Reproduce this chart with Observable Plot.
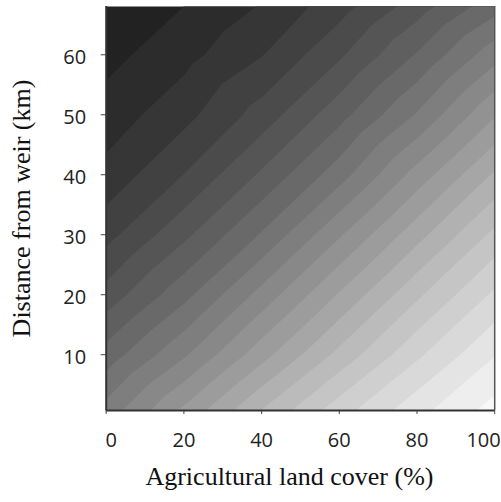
<!DOCTYPE html>
<html><head><meta charset="utf-8">
<script src="https://cdn.jsdelivr.net/npm/d3@7"></script>
<script src="https://cdn.jsdelivr.net/npm/@observablehq/plot@0.6"></script>
<style>body{margin:0;background:#fff}</style>
</head><body><div id="chart"></div>
<script>
// Grid columns: agricultural land cover (%)
const agriculture = [0, 20, 40, 60, 80, 100];
// Grid rows: distance from weir (km), top to bottom
const distance = [68.05, 60, 50, 40, 30, 20, 10, 0.7];
// Estimated band level at each grid node (rows follow `distance`, columns follow `agriculture`)
const level = [
  [-0.45, 0.50, 1.57, 3.08, 5.02, 7.10],
  [ 0.18, 1.15, 2.45, 4.33, 6.58, 9.10],
  [ 0.93, 2.17, 3.92, 6.12, 8.60, 11.40],
  [ 1.82, 3.52, 5.66, 8.06, 10.90, 13.65],
  [ 3.15, 5.25, 7.60, 10.37, 13.13, 15.77],
  [ 4.89, 7.17, 9.86, 12.60, 15.30, 17.70],
  [ 6.92, 9.35, 12.10, 14.80, 17.30, 19.45],
  [ 8.90, 11.71, 14.53, 17.06, 19.16, 20.90]
];
// Contour band edges
const thresholds = [-0.5, 0.5, 1.5, 2.5, 3.5, 4.5, 5.5, 6.5, 7.5, 8.5, 9.5, 10.5,
                    11.5, 12.5, 13.5, 14.5, 15.5, 16.5, 17.5, 18.5, 19.5, 20.5, 21.5];
const xTicks = [0, 20, 40, 60, 80, 100];
const yTicks = [10, 20, 30, 40, 50, 60];
const xDomain = [0, 100];
const yDomain = [0.7, 68.05];
const xTitle = "Agricultural land cover (%)";
const yTitle = "Distance from weir (km)";

const grid = distance.flatMap((d, i) => agriculture.map((a, j) => ({a, d, z: level[i][j]})));
const tickFont = "'Open Sans', sans-serif";
const titleFont = "'Liberation Serif', serif";
const labelPx = 20;

const chart = Plot.plot({
  width: 501,
  height: 502,
  marginTop: 6,
  marginBottom: 92,
  marginLeft: 105.7,
  marginRight: 6.8,
  style: {fontFamily: tickFont, fontSize: "20px", color: "#222", background: "#fff"},
  x: {domain: xDomain},
  y: {domain: yDomain},
  color: {type: "linear", domain: [-0.5, 20.5], range: ["#222222", "#f8f8f8"]},
  marks: [
    Plot.contour(grid, {
      x: "a", y: "d", fill: "z", thresholds,
      interpolate: "barycentric", pixelSize: 1,
      x1: xDomain[0], x2: xDomain[1], y1: yDomain[0], y2: yDomain[1],
      stroke: "none"
    }),
    // tick marks only
    Plot.axisX({ticks: xTicks, tickSize: 4, tickFormat: () => "", label: null, stroke: "#444"}),
    Plot.axisY({ticks: yTicks, tickSize: 5, tickFormat: () => "", label: null, stroke: "#444"}),
    // tick labels
    Plot.axisX({ticks: xTicks.slice(0, 1), tickSize: 0, tickPadding: 22, dx: 5, label: null, fontSize: labelPx}),
    Plot.axisX({ticks: xTicks.slice(1, -1), tickSize: 0, tickPadding: 22, label: null, fontSize: labelPx}),
    Plot.axisX({ticks: xTicks.slice(-1), tickSize: 0, tickPadding: 22, textAnchor: "end", dx: 6, label: null, fontSize: labelPx}),
    Plot.axisY({ticks: yTicks, tickSize: 0, tickPadding: 20, dy: 2.5, label: null, fontSize: labelPx}),
    Plot.ruleX([xDomain[0]], {stroke: "#333", strokeWidth: 2}),
    Plot.ruleX([xDomain[1]], {stroke: "#555", strokeWidth: 1.5}),
    Plot.ruleY([yDomain[0]], {stroke: "#333", strokeWidth: 2}),
    Plot.text([xTitle], {frameAnchor: "bottom", dy: 74, dx: -11, textAnchor: "middle", fontFamily: titleFont, fontSize: 26, fill: "#111"}),
    Plot.text([yTitle], {frameAnchor: "left", dx: -85, rotate: -90, textAnchor: "middle", fontFamily: titleFont, fontSize: 26, fill: "#111"})
  ]
});
document.getElementById("chart").append(chart);
</script>
</body></html>
